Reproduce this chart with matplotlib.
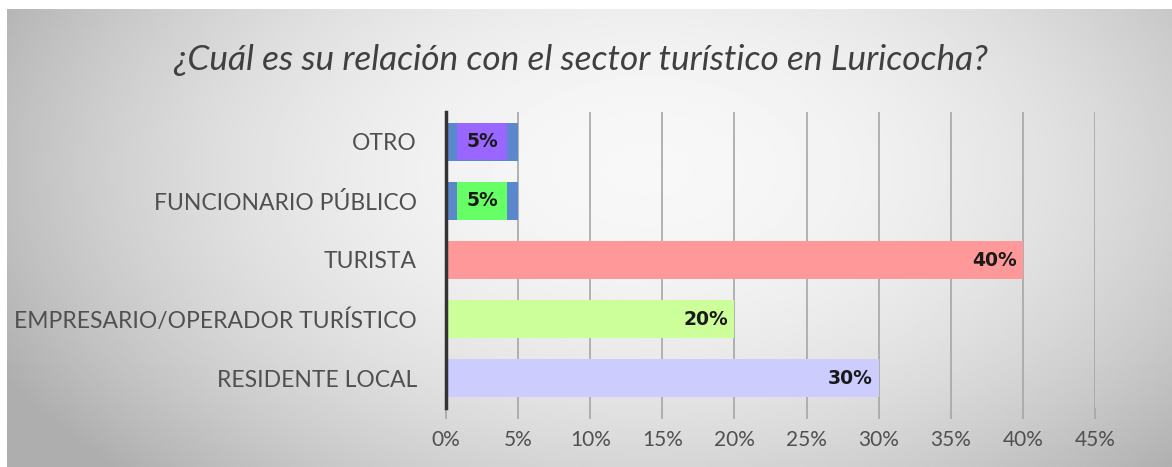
import matplotlib.pyplot as plt
import numpy as np

categorias = ['RESIDENTE LOCAL', 'EMPRESARIO/OPERADOR TURÍSTICO', 'TURISTA',
              'FUNCIONARIO PÚBLICO', 'OTRO']
valores = [30, 20, 40, 5, 5]
colores = ['#CCCCFF', '#CCFF99', '#FF9999', '#5B87CC', '#5B87CC']
caja_etiqueta = [None, None, None, '#66FF66', '#9966FF']
ticks = [0, 5, 10, 15, 20, 25, 30, 35, 40, 45]

plt.rcParams['font.family'] = ['Lato', 'DejaVu Sans']

fig = plt.figure(figsize=(11.72, 4.67), dpi=100)

# fondo con degradado
bg = fig.add_axes([7 / 1172, 0, 1 - 7 / 1172, 1 - 9 / 467])
xx = np.linspace(-1, 1, 400)
yy = np.linspace(-1, 1, 160)
X, Y = np.meshgrid(xx, yy)
r = np.sqrt(((X - 0.1) / 1.05) ** 2 + ((Y + 0.3) / 1.6) ** 2)
img = 0.97 - 0.2 * np.clip(r, 0, 1.2) ** 2.0
bg.imshow(img, cmap='gray', vmin=0, vmax=1, aspect='auto', extent=[0, 1, 0, 1])
bg.set_axis_off()

ax = fig.add_axes([446 / 1172, 1 - 408 / 467, (1095 - 446) / 1172, (408 - 112) / 467])
ax.patch.set_alpha(0)
y = np.arange(len(categorias))
ax.barh(y, valores, height=0.64, color=colores, zorder=2)

etq = dict(fontsize=13.5, fontweight='bold', color='#1A1A1A', zorder=4,
           family='DejaVu Sans')
for i, v in enumerate(valores):
    if caja_etiqueta[i]:
        ax.text(v / 2, i, f'{v}%', ha='center', va='center',
                bbox=dict(boxstyle='square,pad=0.5', fc=caja_etiqueta[i], ec='none'), **etq)
    else:
        ax.text(v - 0.4, i, f'{v}%', ha='right', va='center', **etq)

ax.set_xlim(0, 45)
ax.set_ylim(-0.5, 4.5)
ax.set_xticks(ticks)
ax.set_xticklabels([f'{t}%' for t in ticks])
ax.set_yticks(y)
ax.set_yticklabels(categorias)
ax.grid(axis='x', color='#A6A6A6', linewidth=1.2, zorder=0)
for s in ['top', 'right', 'bottom']:
    ax.spines[s].set_visible(False)
ax.spines['left'].set_color('#333333')
ax.spines['left'].set_linewidth(2.5)
ax.tick_params(axis='y', length=0, pad=21, labelsize=16.5, labelcolor='#505050')
ax.tick_params(axis='x', length=8, width=1.2, color='#A6A6A6', pad=8,
               labelsize=15, labelcolor='#505050')

fig.text(0.495, 1 - 60 / 467, '¿Cuál es su relación con el sector turístico en Luricocha?',
         ha='center', va='center', fontsize=25.4, style='italic', color='#404040')

fig.savefig('out.png', dpi=100)
